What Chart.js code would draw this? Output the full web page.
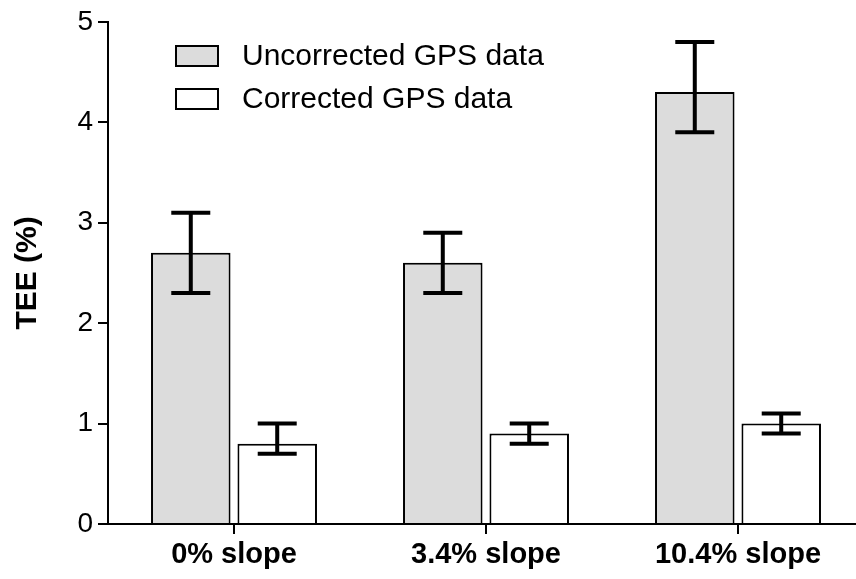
<!DOCTYPE html>
<html>
<head>
<meta charset="utf-8">
<script src="https://cdn.jsdelivr.net/npm/chart.js@4.4.1/dist/chart.umd.min.js"></script>
<style>
  html, body { margin: 0; padding: 0; background: #fff; overflow: hidden; }
  #wrap { width: 856px; height: 579px; overflow: hidden; }
  canvas { display: block; }
</style>
</head>
<body>
<div id="wrap"><canvas id="cTee" width="870" height="579" style="width:870px;height:579px"></canvas></div>
<script>
/* TEE (%) for uncorrected vs corrected GPS data, with error bars */
var CATEGORIES = ["0% slope", "3.4% slope", "10.4% slope"];
var UNCORRECTED = [2.7, 2.6, 4.3];
var UNCORRECTED_LO = [2.3, 2.3, 3.9];
var UNCORRECTED_HI = [3.1, 2.9, 4.8];
var CORRECTED = [0.8, 0.9, 1.0];
var CORRECTED_LO = [0.7, 0.8, 0.9];
var CORRECTED_HI = [1.0, 1.0, 1.1];
var Y_TICKS = [0, 1, 2, 3, 4, 5];

var FONT = "'Liberation Sans', Arial, sans-serif";
var GREY = "#dcdcdc", INK = "#000";

var ERRS = [
  { lo: UNCORRECTED_LO, hi: UNCORRECTED_HI },
  { lo: CORRECTED_LO, hi: CORRECTED_HI }
];

// error bars drawn from each bar's x and the y scale
var errorBars = {
  id: "errorBars",
  afterDatasetsDraw: function (chart) {
    var ctx = chart.ctx, y = chart.scales.y;
    ctx.save();
    ctx.strokeStyle = INK;
    ctx.lineWidth = 4;
    ctx.lineCap = "butt";
    ERRS.forEach(function (e, di) {
      chart.getDatasetMeta(di).data.forEach(function (bar, i) {
        var x = bar.x, top = y.getPixelForValue(e.hi[i]), bot = y.getPixelForValue(e.lo[i]);
        var half = 19.5;
        ctx.beginPath();
        ctx.moveTo(x, top); ctx.lineTo(x, bot);
        ctx.moveTo(x - half, top); ctx.lineTo(x + half, top);
        ctx.moveTo(x - half, bot); ctx.lineTo(x + half, bot);
        ctx.stroke();
      });
    });
    ctx.restore();
  }
};

// legend inside the plot, top left
var boxLegend = {
  id: "boxLegend",
  afterDraw: function (chart) {
    var ctx = chart.ctx;
    ctx.save();
    ctx.font = "30px " + FONT;
    ctx.textBaseline = "middle";
    chart.data.datasets.forEach(function (ds, i) {
      var cy = 56 + i * 43;
      ctx.fillStyle = ds.backgroundColor;
      ctx.fillRect(176, cy - 10, 42, 20);
      ctx.strokeStyle = INK;
      ctx.lineWidth = 2;
      ctx.strokeRect(176, cy - 10, 42, 20);
      ctx.fillStyle = INK;
      ctx.fillText(ds.label, 242, cy + 1);
    });
    ctx.restore();
  }
};

new Chart(document.getElementById("cTee"), {
  type: "bar",
  data: {
    labels: CATEGORIES,
    datasets: [
      { label: "Uncorrected GPS data", data: UNCORRECTED, backgroundColor: GREY,
        borderColor: INK, borderWidth: 2, borderSkipped: "bottom" },
      { label: "Corrected GPS data", data: CORRECTED, backgroundColor: "#ffffff",
        borderColor: INK, borderWidth: 2, borderSkipped: "bottom" }
    ]
  },
  options: {
    responsive: false,
    animation: false,
    devicePixelRatio: 1,
    categoryPercentage: 0.686,
    barPercentage: 0.92,
    layout: { padding: { top: 20, right: 6, left: 0, bottom: 0 } },
    plugins: { legend: { display: false }, tooltip: { enabled: false } },
    scales: {
      x: {
        offset: true,
        grid: { offset: false, drawOnChartArea: false, drawTicks: true, tickLength: 10, color: INK, lineWidth: 2 },
        border: { display: true, color: INK, width: 2 },
        ticks: { color: INK, font: { family: FONT, size: 29, weight: "bold" }, padding: 4, maxRotation: 0 },
        afterFit: function (s) { s.height = 55; }
      },
      y: {
        min: 0, max: 5,
        afterBuildTicks: function (s) { s.ticks = Y_TICKS.map(function (v) { return { value: v }; }); },
        grid: { drawOnChartArea: false, drawTicks: true, tickLength: 10, color: INK, lineWidth: 2 },
        border: { display: true, color: INK, width: 2 },
        ticks: { color: INK, font: { family: FONT, size: 28 }, padding: 5 },
        title: { display: true, text: "TEE (%)", color: INK,
          font: { family: FONT, size: 30, weight: "bold" }, padding: { top: 10, bottom: 0 } },
        afterFit: function (s) { s.width = 108; }
      }
    }
  },
  plugins: [errorBars, boxLegend]
});
</script>
</body>
</html>
